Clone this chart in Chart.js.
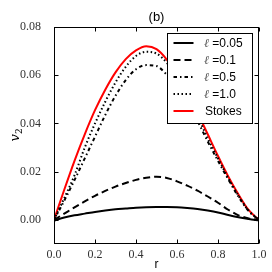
<!DOCTYPE html>
<html><head><meta charset="utf-8">
<script src="https://cdn.jsdelivr.net/npm/chart.js"></script>
<style>html,body{margin:0;padding:0;background:#fff}canvas{display:block}</style>
</head><body>
<canvas id="c" width="272" height="272"></canvas>
<script>
const R       = [0,0.05,0.1,0.15,0.2,0.25,0.3,0.35,0.4,0.45,0.5,0.55,0.6,0.65,0.7,0.75,0.8,0.85,0.9,0.95,1.0];
const V_L005  = [-0.0003,0.0010,0.0019,0.0026,0.0033,0.0039,0.0044,0.0047,0.0050,0.0052,0.0053,0.0053,0.0052,0.0049,0.0045,0.0039,0.0031,0.0020,0.0011,0.0004,-0.0002];
const V_L01   = [0,0.0026,0.0052,0.0077,0.0100,0.0120,0.0138,0.0153,0.0166,0.0175,0.0179,0.0174,0.0160,0.0142,0.0121,0.0097,0.0071,0.0042,0.0019,0.0006,0];
const V_L05   = [0,0.0080,0.0165,0.0255,0.0345,0.0435,0.0515,0.0580,0.0625,0.0642,0.0638,0.0602,0.0552,0.0485,0.0410,0.0325,0.0245,0.0168,0.0096,0.0036,0];
const V_L10   = [0,0.0090,0.0185,0.0300,0.0400,0.0490,0.0570,0.0635,0.0680,0.0697,0.0690,0.0652,0.0592,0.0515,0.0432,0.0337,0.0255,0.0174,0.0100,0.0038,0];
const V_STOKES= [0,0.0125,0.0245,0.0355,0.0455,0.0540,0.0612,0.0667,0.0703,0.0720,0.0708,0.0665,0.0600,0.0525,0.0445,0.0355,0.0265,0.0180,0.0105,0.0040,0];
const SERIES_LABELS = ['\u2113 =0.05','\u2113 =0.1','\u2113 =0.5','\u2113 =1.0','Stokes'];
const X_TICKS = [0,0.2,0.4,0.6,0.8,1.0];
const Y_TICKS = [0,0.02,0.04,0.06,0.08];
const TITLE = '(b)';
const X_LABEL = 'r';

const pts = arr => R.map((r,i)=>({x:r,y:arr[i]}));
const styles = [
  {color:'#000', dash:[]},
  {color:'#000', dash:[7,4]},
  {color:'#000', dash:[3.5,3,1.5,3]},
  {color:'#000', dash:[1.5,2.5]},
  {color:'#ff0000', dash:[]}
];
const seriesVals = [V_L005,V_L01,V_L05,V_L10,V_STOKES];
const datasets = seriesVals.map((v,i)=>({
  label: SERIES_LABELS[i], data: pts(v),
  borderColor: styles[i].color, borderDash: styles[i].dash, borderWidth: 2,
  pointRadius: 0, fill:false, cubicInterpolationMode:'monotone', borderCapStyle:'butt'
}));

const deco = {
  id:'deco',
  afterDraw(chart){
    const ctx = chart.ctx, a = chart.chartArea;
    const xs = chart.scales.x, ys = chart.scales.y;
    ctx.save();
    // legend
    const lx = 167.5, ly = 33.5, lw = 85, lh = 90;
    ctx.fillStyle = '#fff';
    ctx.fillRect(lx, ly, lw, lh);
    ctx.strokeStyle = '#000'; ctx.lineWidth = 1; ctx.setLineDash([]);
    ctx.strokeRect(lx, ly, lw, lh);
    chart.data.datasets.forEach((ds,i)=>{
      const cy = 43 + i*17;
      ctx.beginPath();
      ctx.strokeStyle = ds.borderColor; ctx.lineWidth = ds.borderWidth;
      ctx.setLineDash(ds.borderDash); ctx.lineCap='butt';
      ctx.moveTo(173.5, cy); ctx.lineTo(193.5, cy); ctx.stroke();
      ctx.setLineDash([]);
      ctx.textBaseline = 'middle'; ctx.textAlign='left';
      const lab = ds.label;
      if (lab.charAt(0) === '\u2113') {
        ctx.font = 'italic 12px "DejaVu Serif"';
        ctx.fillStyle = '#555';
        ctx.fillText('\u2113', 204, cy+0.5);
        ctx.font = '12px "Liberation Sans"';
        ctx.fillStyle = '#000';
        ctx.fillText(lab.slice(1), 209, cy+0.5);
      } else {
        ctx.font = '12px "Liberation Sans"';
        ctx.fillStyle = '#000';
        ctx.fillText(lab, 205, cy+0.5);
      }
    });
    // frame
    ctx.strokeStyle='#000'; ctx.lineWidth=1; ctx.setLineDash([]);
    const L = Math.round(a.left)+0.5, Rr = Math.round(a.right)-0.5, T = Math.round(a.top)+0.5, B = Math.round(a.bottom)-0.5;
    ctx.strokeRect(L, T, Rr-L, B-T);
    ctx.beginPath();
    X_TICKS.forEach(v=>{
      const px = Math.round(xs.getPixelForValue(v))+0.5;
      ctx.moveTo(px,B); ctx.lineTo(px,B-4);
      ctx.moveTo(px,T); ctx.lineTo(px,T+4);
    });
    Y_TICKS.forEach(v=>{
      const py = Math.round(ys.getPixelForValue(v))+0.5;
      ctx.moveTo(L,py); ctx.lineTo(L+4,py);
      ctx.moveTo(Rr,py); ctx.lineTo(Rr-4,py);
    });
    ctx.stroke();
    // title
    ctx.fillStyle='#000';
    ctx.font='13px "Liberation Sans"'; ctx.textAlign='center'; ctx.textBaseline='alphabetic';
    ctx.fillText(TITLE, (a.left+a.right)/2, 21);
    // x label
    ctx.font='12px "Liberation Sans"';
    ctx.fillText(X_LABEL, (a.left+a.right)/2, 268);
    // y label v_2
    ctx.save();
    ctx.translate(19, (a.top+a.bottom)/2);
    ctx.rotate(-Math.PI/2);
    ctx.textAlign='left';
    ctx.font='italic 13px "DejaVu Serif"';
    ctx.fillText('v', -6, 0);
    ctx.font='9px "DejaVu Serif"';
    ctx.fillText('2', 1.5, 3);
    ctx.restore();
    ctx.restore();
  }
};

new Chart(document.getElementById('c'), {
  type:'line',
  data:{datasets},
  options:{
    responsive:false, animation:false, devicePixelRatio:1,
    layout:{padding:{top:27,right:13,left:0,bottom:0}},
    plugins:{legend:{display:false}, title:{display:false}, tooltip:{enabled:false}},
    scales:{
      x:{type:'linear', min:0, max:1,
        afterBuildTicks:s=>{s.ticks = X_TICKS.map(v=>({value:v}));},
        afterFit:s=>{s.height=28;},
        grid:{display:false}, border:{display:false},
        ticks:{font:{family:'Liberation Serif',size:12}, color:'#333', padding:-4, maxRotation:0, autoSkip:false,
          callback:v=>Number(v).toFixed(1)}},
      y:{type:'linear', min:-0.01, max:0.08,
        afterBuildTicks:s=>{s.ticks = Y_TICKS.map(v=>({value:v}));},
        afterFit:s=>{s.width=54;},
        grid:{display:false}, border:{display:false},
        ticks:{font:{family:'Liberation Serif',size:12}, color:'#333', padding:5, autoSkip:false,
          callback:v=>Number(v).toFixed(2)}}
    }
  },
  plugins:[deco]
});
</script>
</body></html>
